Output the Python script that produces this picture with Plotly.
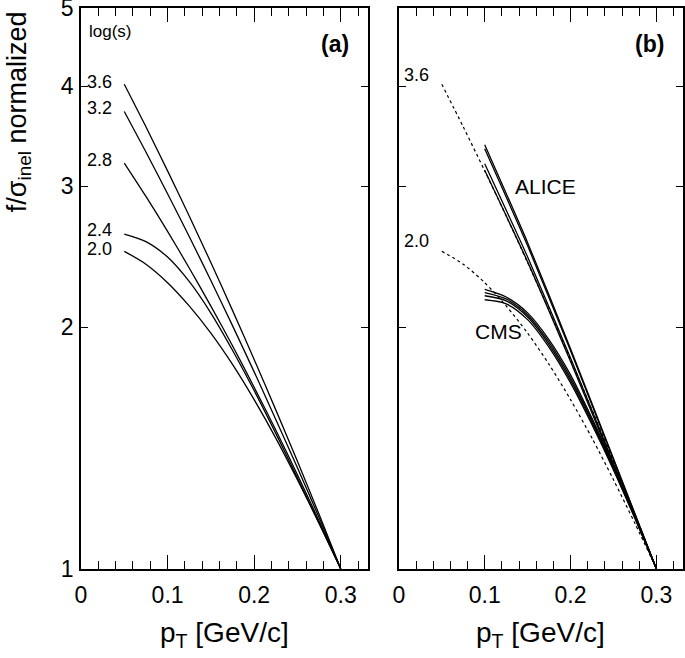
import math
import plotly.graph_objects as go

# ---------------- data ----------------
# panel (a): model curves for several log(s)
pt_a = [0.05, 0.075, 0.1, 0.125, 0.15, 0.175, 0.2, 0.225, 0.25, 0.275, 0.3]
logs_labels = ["3.6", "3.2", "2.8", "2.4", "2.0"]
f_36 = [4.021, 3.558, 3.135, 2.754, 2.409, 2.100, 1.824, 1.578, 1.361, 1.169, 1.0]
f_32 = [3.718, 3.309, 2.936, 2.596, 2.288, 2.010, 1.760, 1.535, 1.336, 1.158, 1.0]
f_28 = [3.206, 2.913, 2.635, 2.372, 2.126, 1.897, 1.684, 1.489, 1.310, 1.147, 1.0]
f_24 = [2.615, 2.559, 2.448, 2.282, 2.084, 1.873, 1.668, 1.475, 1.298, 1.140, 1.0]
f_20 = [2.488, 2.398, 2.274, 2.127, 1.967, 1.798, 1.625, 1.455, 1.291, 1.139, 1.0]
curves_a = [f_36, f_32, f_28, f_24, f_20]

# panel (b): ALICE and CMS curves
pt_alice = [0.1, 0.15, 0.2, 0.25, 0.3]
alice_1 = [3.38, 2.551, 1.881, 1.372, 1.0]
alice_2 = [3.34, 2.528, 1.870, 1.367, 1.0]
alice_3 = [3.20, 2.448, 1.831, 1.353, 1.0]
alice_4 = [3.14, 2.414, 1.813, 1.347, 1.0]
alice_curves = [alice_1, alice_2, alice_3, alice_4]

pt_cms = [0.1, 0.125, 0.15, 0.175, 0.2, 0.225, 0.25, 0.275, 0.3]
cms_1 = [2.230, 2.182, 2.085, 1.930, 1.745, 1.540, 1.345, 1.163, 1.0]
cms_2 = [2.210, 2.170, 2.072, 1.915, 1.730, 1.530, 1.338, 1.160, 1.0]
cms_3 = [2.190, 2.158, 2.060, 1.902, 1.718, 1.521, 1.333, 1.158, 1.0]
cms_4 = [2.165, 2.140, 2.045, 1.888, 1.705, 1.512, 1.328, 1.155, 1.0]
cms_curves = [cms_1, cms_2, cms_3, cms_4]

x_ticks = [0, 0.1, 0.2, 0.3]
y_ticks = [1, 2, 3, 4, 5]

# ---------------- figure ----------------
FONT = "Liberation Sans, Arial, Helvetica, sans-serif"
fig = go.Figure()

for ys in curves_a:
    fig.add_trace(go.Scatter(x=pt_a, y=ys, mode="lines", xaxis="x", yaxis="y",
                             line=dict(color="black", width=1.3, shape="spline", smoothing=0.8),
                             showlegend=False, hoverinfo="skip"))

for ys in (f_36, f_20):
    fig.add_trace(go.Scatter(x=pt_a, y=ys, mode="lines", xaxis="x2", yaxis="y2",
                             line=dict(color="black", width=1.2, dash="3px,3px", shape="spline", smoothing=0.8),
                             showlegend=False, hoverinfo="skip"))
for ys in alice_curves:
    fig.add_trace(go.Scatter(x=pt_alice, y=ys, mode="lines", xaxis="x2", yaxis="y2",
                             line=dict(color="black", width=1.3, shape="spline", smoothing=0.6),
                             showlegend=False, hoverinfo="skip"))
for ys in cms_curves:
    fig.add_trace(go.Scatter(x=pt_cms, y=ys, mode="lines", xaxis="x2", yaxis="y2",
                             line=dict(color="black", width=1.3, shape="spline", smoothing=0.8),
                             showlegend=False, hoverinfo="skip"))


def xaxis_style(domain):
    return dict(domain=domain, range=[0, 0.331], tickvals=x_ticks,
                ticktext=[("%g" % v) for v in x_ticks],
                ticks="inside", ticklen=14, tickwidth=1.3, tickcolor="black",
                showline=True, linecolor="black", linewidth=1.6, mirror="ticks",
                showgrid=False, zeroline=False, automargin=False,
                ticklabeloverflow="allow",
                tickfont=dict(family=FONT, size=23, color="black"),
                ticklabelstandoff=5,
                minor=dict(ticks="inside", ticklen=8, dtick=0.02, tick0=0,
                           tickwidth=1.3, tickcolor="black", showgrid=False))


def yaxis_style(anchor, labels):
    return dict(anchor=anchor, type="log", range=[-0.0004, 0.6994],
                tickvals=y_ticks, ticktext=[str(v) for v in y_ticks],
                showticklabels=labels,
                ticks="inside", ticklen=7, tickwidth=1.3, tickcolor="black",
                showline=True, linecolor="black", linewidth=1.6, mirror="ticks",
                showgrid=False, zeroline=False, automargin=False,
                ticklabeloverflow="allow",
                tickfont=dict(family=FONT, size=23, color="black"),
                ticklabelstandoff=1)


def note(text, x, y, size, xref="paper", yref="paper", angle=0):
    return dict(text=text, xref=xref, yref=yref, x=x, y=y, textangle=angle,
                showarrow=False, xanchor="center", yanchor="middle",
                font=dict(family=FONT, size=size, color="black"))


ann = []
# axis titles
ann.append(note("f/σ<sub>inel</sub> normalized", -0.104, 0.815, 27, angle=-90))
for cx in (0.238, 0.764):
    ann.append(note("p<sub>T</sub> [GeV/c]", cx, -0.117, 28))
# panel tags and labels
ann.append(note("<b>(a)</b>", 0.422, 0.936, 23))
ann.append(note("<b>(b)</b>", 0.945, 0.936, 23))
ann.append(note("log(s)", 0.049, 0.959, 17))
ann.append(note("ALICE", 0.7724, 0.6827, 21))
ann.append(note("CMS", 0.6927, 0.4242, 21))

# curve labels in panel (a)
label_y_a = [4.047, 3.757, 3.236, 2.645, 2.505]
for lab, yv in zip(logs_labels, label_y_a):
    ann.append(note(lab, 0.021, math.log10(yv), 18, xref="x", yref="y"))
# dashed curve labels in panel (b)
for lab, yv in (("3.6", 4.13), ("2.0", 2.565)):
    ann.append(note(lab, 0.020, math.log10(yv), 18, xref="x2", yref="y2"))

fig.update_layout(
    width=685, height=658,
    margin=dict(l=81, r=2, t=8, b=89),
    paper_bgcolor="white", plot_bgcolor="white",
    xaxis=xaxis_style([0, 0.476]),
    xaxis2=xaxis_style([0.528, 1.0]),
    yaxis=yaxis_style("x", True),
    yaxis2=yaxis_style("x2", False),
    annotations=ann,
    showlegend=False,
    font=dict(family=FONT, color="black"),
)

fig.write_html("out.html", config={"displayModeBar": False},
               post_script="document.body.style.margin='0px';document.body.style.padding='0px';")
